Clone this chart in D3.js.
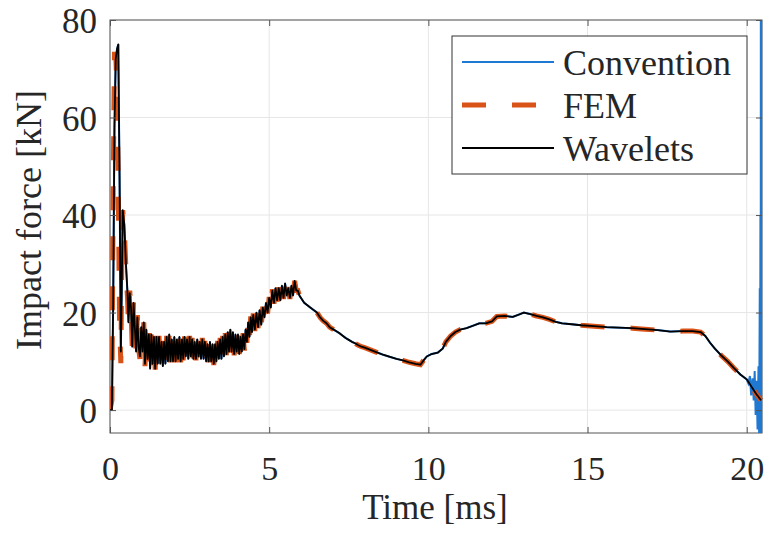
<!DOCTYPE html>
<html>
    <head>
        <meta charset="UTF-8">
        <title>Impact force</title>
        <style>
            body {margin:0; background:#fff;}
            svg text {font-family:"Liberation Serif", "Times New Roman", Times, serif !important; fill:#262626;}
            .grid line {stroke:#e6e6e6; stroke-width:1px;}
            .axis line {stroke:#555; stroke-width:1px;}
            .axis path {display:none;}
        </style>
        <script src="https://cdn.jsdelivr.net/npm/d3@7"></script>
    </head>
    <body>
        <svg width="767" height="537"></svg>
        <script>
            //... data (time in ms, force in kN)
            var timeMs = [0, 0.06, 0.10, 0.14, 0.18, 0.22, 0.26, 0.30, 0.34, 0.37,
                0.40, 0.45, 0.50, 0.55, 0.58, 0.62, 0.66, 0.70, 0.74, 0.78, 0.82, 0.86, 0.90, 0.94, 0.98,
                1.02, 1.06, 1.10, 1.14, 1.18, 1.22, 1.26, 1.30, 1.34, 1.38, 1.42, 1.46, 1.50, 1.54, 1.58,
                1.62, 1.66, 1.70, 1.74, 1.78, 1.82, 1.86, 1.90, 1.94, 1.98, 2.02, 2.06, 2.10, 2.14, 2.18,
                2.22, 2.26, 2.30, 2.34, 2.38, 2.42, 2.46, 2.50, 2.54, 2.58, 2.62, 2.66, 2.70, 2.74, 2.78,
                2.82, 2.86, 2.90, 2.94, 2.98, 3.02, 3.06, 3.10, 3.14, 3.18, 3.22, 3.26, 3.30, 3.34, 3.38,
                3.42, 3.46, 3.50, 3.54, 3.58, 3.62, 3.66, 3.70, 3.74, 3.78, 3.82, 3.86, 3.90, 3.94, 3.98,
                4.02, 4.06, 4.10, 4.14, 4.18, 4.22, 4.26, 4.30, 4.34, 4.38, 4.42, 4.46, 4.50, 4.55, 4.60,
                4.65, 4.70, 4.75, 4.80, 4.85, 4.90, 4.95, 5.00, 5.05, 5.10, 5.15, 5.20, 5.25, 5.30, 5.35,
                5.40, 5.45, 5.50, 5.55, 5.60, 5.65, 5.70, 5.75, 5.80, 5.85, 5.90, 5.95, 6.00, 6.10, 6.20,
                6.30, 6.40, 6.50, 6.60, 6.70, 6.80, 6.90, 7.00, 7.10, 7.20, 7.30, 7.40, 7.50, 7.60, 7.70,
                7.80, 7.90, 8.00, 8.20, 8.40, 8.60, 8.80, 9.00, 9.20, 9.40, 9.60, 9.75, 9.85, 9.95, 10.10,
                10.30, 10.45, 10.55, 10.70, 10.85, 11.00, 11.20, 11.40, 11.60, 11.80, 12.00, 12.15, 12.40, 12.65, 12.85,
                13.00, 13.20, 13.40, 13.60, 13.80, 14.00, 14.20, 14.50, 14.80, 15.20, 15.60, 16.00, 16.40, 16.80, 17.20,
                17.60, 18.00, 18.30, 18.55, 18.70, 18.85, 19.00, 19.20, 19.40, 19.60, 19.80, 20.00, 20.15, 20.30, 20.45];

            var waveletKN = [0, 0, 22, 58, 72, 74, 75, 48, 12, 25,
                41, 38, 30, 24, 18, 24, 21, 13, 22, 17, 12, 19, 13, 11, 17,
                12, 18, 9.5, 16.5, 10.5, 15.5, 8.5, 15.5, 9.5, 15, 8.5, 15, 9.5, 15, 9.5,
                14, 9, 14, 9.5, 15, 10, 15.5, 10, 14.5, 10, 15, 10, 14.5, 10.5, 15,
                10, 14.5, 10.5, 15, 11, 14.5, 10.5, 15, 11, 14.5, 10.5, 14, 10.5, 14.5, 11,
                14, 10.5, 14.5, 10.5, 14, 10, 13.5, 10, 14, 10, 13.5, 9.5, 13.5, 10, 14,
                10.5, 14.5, 10.5, 15, 11, 15.5, 11.5, 16, 12, 16.5, 12, 16, 11.5, 15.5, 12,
                15.5, 11.5, 15, 12, 15.5, 12.5, 16.5, 14, 18, 15, 19, 16, 19.5, 16.5, 20,
                17, 20.5, 17.5, 21, 19, 22, 20, 23, 21, 24.5, 22, 25, 22.5, 25, 22.5,
                25.5, 23, 26, 23.5, 25, 23, 25.5, 23.5, 26.5, 24.5, 24.5, 23.5, 23, 22, 21.5,
                21, 20.5, 20, 19, 18.3, 17.8, 17, 16.6, 16.2, 15.8, 15.3, 14.8, 14.4, 14, 13.7,
                13.3, 13, 12.8, 12.3, 11.8, 11.3, 10.9, 10.5, 10.2, 9.8, 9.5, 9.3, 10.2, 11, 11.5,
                11.8, 12.6, 14, 15.2, 16, 16.5, 16.8, 17.3, 17.8, 17.8, 18.2, 19.2, 19.3, 19.1, 19.6,
                20, 19.7, 19.3, 19, 18.6, 18.1, 17.8, 17.6, 17.4, 17.2, 17, 16.9, 16.8, 16.6, 16.4,
                16.1, 16.2, 16.2, 16, 15.2, 13.8, 12.6, 11.2, 10, 8.6, 7.3, 6.3, 4.8, 3.3, 2.0];

            var femKN = [0, 2, 45, 73, 73, 66, 45, 18, 9.6, 30,
                41, 37, 29, 23, 17.5, 24.5, 20.5, 12.5, 22.5, 16.5, 11.5, 19.5, 12.5, 10.5, 17.5,
                11.5, 18, 9, 16.8, 10, 15.8, 8.2, 15.6, 9.2, 15.2, 8.3, 15.2, 9.2, 15.2, 9.2,
                14.2, 8.8, 14.2, 9.2, 15.2, 9.8, 15.6, 9.8, 14.8, 9.8, 15.2, 9.8, 14.8, 10.2, 15.2,
                9.8, 14.8, 10.2, 15.2, 10.8, 14.8, 10.2, 15.2, 10.8, 14.8, 10.2, 14.2, 10.2, 14.8, 10.8,
                14.2, 10.2, 14.8, 10.2, 14.2, 9.8, 13.8, 9.8, 14.2, 9.8, 13.8, 9.2, 13.8, 9.8, 14.2,
                10.2, 14.8, 10.2, 15.2, 10.8, 15.8, 11.2, 16.2, 11.8, 16.8, 11.8, 16.2, 11.2, 15.8, 11.8,
                15.8, 11.2, 15.2, 11.8, 15.8, 12.2, 16.8, 13.8, 18.2, 14.8, 19.2, 15.8, 19.8, 16.2, 20.2,
                16.8, 20.8, 17.2, 21.2, 18.8, 22.2, 19.8, 23.2, 20.8, 24.8, 21.8, 25.2, 22.2, 25.2, 22.2,
                25.8, 22.8, 26.2, 23.2, 25.2, 22.8, 25.8, 23.2, 26.5, 24.5, 24.5, 23.5, 23, 22, 21.5,
                21, 20.5, 20, 19, 18.3, 17.8, 17, 16.6, 16.2, 15.8, 15.3, 14.8, 14.4, 14, 13.7,
                13.3, 13, 12.8, 12.3, 11.8, 11.3, 10.9, 10.5, 10.2, 9.8, 9.5, 9.3, 10.2, 11, 11.5,
                11.8, 12.6, 14, 15.2, 16, 16.5, 16.8, 17.3, 17.8, 17.8, 18.2, 19.2, 19.3, 19.1, 19.6,
                20, 19.7, 19.3, 19, 18.6, 18.1, 17.8, 17.6, 17.4, 17.2, 17, 16.9, 16.8, 16.6, 16.4,
                16.1, 16.2, 16.2, 16, 15.2, 13.8, 12.6, 11.2, 10, 8.6, 7.3, 6.3, 4.8, 3.3, 2.0];

            //... the conventional method follows the others until ~20 ms, then blows up
            var convTailT  = [20.05, 20.10, 20.14, 20.18, 20.22, 20.25, 20.28, 20.31, 20.34, 20.37, 20.39, 20.41, 20.42, 20.43, 20.44, 20.45, 20.458];
            var convTailKN = [5.5, 7, 3, 6.5, 2, 8, -1, 6, -4, 9, -5, 25, -7, 40, -8, 300, -300];

            var seriesNames = ["Convention", "FEM", "Wavelets"];
            var xTicks = [0, 5, 10, 15, 20];
            var yTicks = [0, 20, 40, 60, 80];

            var svg = d3.select("svg");
            var pl = 110, pr = 762, pt = 20, pb = 433;
            var font = "'Liberation Serif', 'Times New Roman', serif";

            var x = d3.scaleLinear().domain([0, 20.48]).range([pl, pr]);
            var y = d3.scaleLinear().domain([-4.7, 80]).range([pb, pt]);

            svg.append("rect").attr("width", 767).attr("height", 537).attr("fill", "#fff");

            //... grid
            var grid = svg.append("g").attr("class", "grid");
            grid.selectAll(".gx").data(xTicks).enter().append("line")
                .attr("x1", d => x(d)).attr("x2", d => x(d))
                .attr("y1", pt).attr("y2", pb);
            grid.selectAll(".gy").data(yTicks).enter().append("line")
                .attr("x1", pl).attr("x2", pr)
                .attr("y1", d => y(d)).attr("y2", d => y(d));

            svg.append("clipPath").attr("id", "plotclip")
                .append("rect").attr("x", pl).attr("y", pt)
                .attr("width", pr - pl + 1).attr("height", pb - pt);

            var line = d3.line().x(d => x(d[0])).y(d => y(d[1]));

            var wavPts = timeMs.map((t, i) => [t, waveletKN[i]]);
            var femPts = timeMs.map((t, i) => [t, femKN[i]]);
            var convPts = wavPts.filter(d => d[0] <= 20.0)
                .concat(convTailT.map((t, i) => [t, convTailKN[i]]));

            //... axes frame first, so the blue blow-up stays visible on the right edge
            svg.append("rect").attr("x", pl).attr("y", pt)
                .attr("width", pr - pl).attr("height", pb - pt)
                .attr("fill", "none").attr("stroke", "#555").attr("stroke-width", 1);

            var plot = svg.append("g").attr("clip-path", "url(#plotclip)");
            plot.append("path").attr("d", line(convPts))
                .attr("fill", "none").attr("stroke", "#1f78d1").attr("stroke-width", 2);
            plot.append("path").attr("d", line(femPts))
                .attr("fill", "none").attr("stroke", "#D95319").attr("stroke-width", 5)
                .attr("stroke-dasharray", "24,26");
            plot.append("path").attr("d", line(wavPts))
                .attr("fill", "none").attr("stroke", "#000").attr("stroke-width", 1.8)
                .attr("stroke-linejoin", "round");

            //... ticks point inward
            var gx = svg.append("g").attr("class", "axis")
                .attr("transform", "translate(0," + pb + ")")
                .call(d3.axisBottom(x).tickValues(xTicks).tickSize(-6).tickFormat(d3.format("d")));
            gx.selectAll("text").attr("y", 47).attr("dy", null)
                .style("font-family", font).style("font-size", "34px");

            svg.append("g").attr("class", "axis")
                .attr("transform", "translate(0," + pt + ")")
                .call(d3.axisTop(x).tickValues(xTicks).tickSize(-6).tickFormat(""));

            var gy = svg.append("g").attr("class", "axis")
                .attr("transform", "translate(" + pl + ",0)")
                .call(d3.axisLeft(y).tickValues(yTicks).tickSize(-6).tickFormat(d3.format("d")));
            gy.selectAll("text").attr("x", -13).attr("dy", "0.36em")
                .style("font-family", font).style("font-size", "35px");

            svg.append("g").attr("class", "axis")
                .attr("transform", "translate(" + pr + ",0)")
                .call(d3.axisRight(y).tickValues(yTicks).tickSize(-6).tickFormat(""));

            svg.append("text")
                .attr("x", 435).attr("y", 519)
                .attr("text-anchor", "middle")
                .style("font-family", font).style("font-size", "35px")
                .text("Time [ms]");
            svg.append("text")
                .attr("transform", "translate(41,220) rotate(-90)")
                .attr("text-anchor", "middle")
                .style("font-family", font).style("font-size", "36px")
                .text("Impact force [kN]");

            //... legend
            var legend = svg.append("g");
            legend.append("rect").attr("x", 452).attr("y", 36)
                .attr("width", 295).attr("height", 138)
                .attr("fill", "#fff").attr("stroke", "#333").attr("stroke-width", 1);
            var styles = [
                {stroke:"#1f78d1", w:2, dash:null},
                {stroke:"#D95319", w:5, dash:"24,26"},
                {stroke:"#000", w:1.8, dash:null}
            ];
            var rows = legend.selectAll(".row").data(seriesNames).enter().append("g")
                .attr("transform", (d, i) => "translate(0," + (62 + i * 43) + ")");
            rows.append("line")
                .attr("x1", 462).attr("x2", 554)
                .attr("stroke", (d, i) => styles[i].stroke)
                .attr("stroke-width", (d, i) => styles[i].w)
                .attr("stroke-dasharray", (d, i) => styles[i].dash);
            rows.append("text")
                .attr("x", 563).attr("y", 13)
                .style("font-family", font).style("font-size", "36px")
                .text(d => d);
        </script>
    </body>
</html>
